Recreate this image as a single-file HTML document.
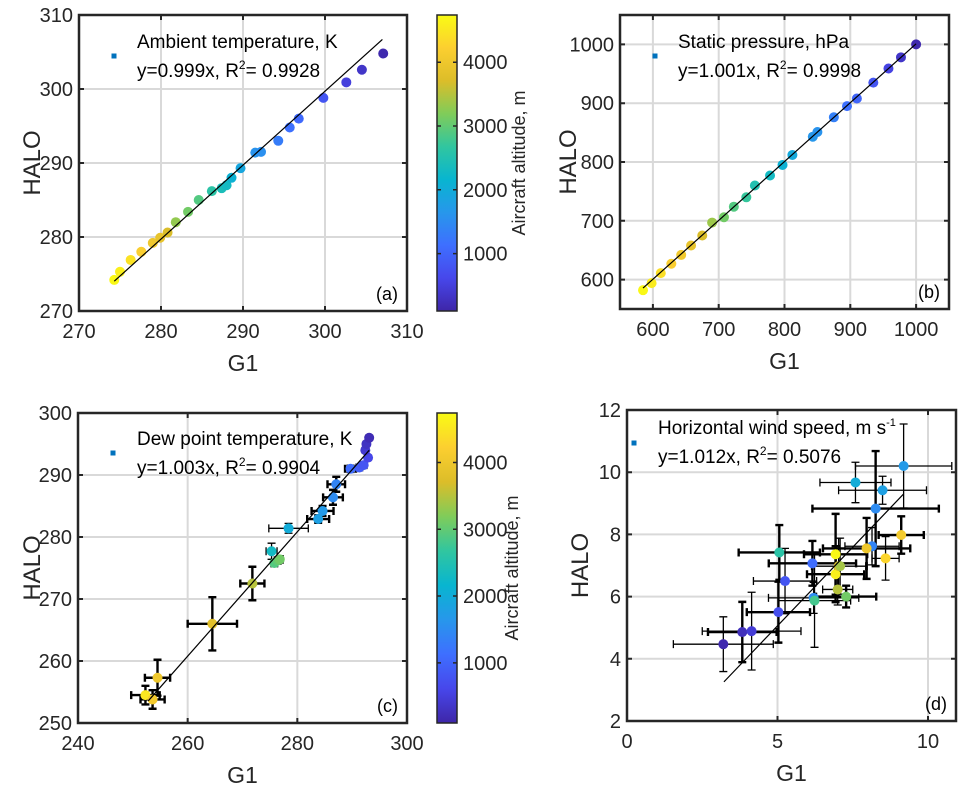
<!DOCTYPE html>
<html><head><meta charset="utf-8"><style>
body{margin:0;background:#fff}
svg{display:block;font-family:"Liberation Sans",Arial,sans-serif}
</style></head><body>
<svg id="fig" width="965" height="792" viewBox="0 0 965 792">
<defs>
<linearGradient id="parula" x1="0" y1="1" x2="0" y2="0">
<stop offset="0" stop-color="#3E26A8"/><stop offset="0.111" stop-color="#4747EB"/><stop offset="0.222" stop-color="#3E6FFF"/><stop offset="0.333" stop-color="#2797EB"/><stop offset="0.444" stop-color="#08B5D0"/><stop offset="0.556" stop-color="#31C69F"/><stop offset="0.667" stop-color="#80CC59"/><stop offset="0.778" stop-color="#DCBD29"/><stop offset="0.889" stop-color="#FCCF30"/><stop offset="1" stop-color="#F9FB14"/>
</linearGradient>
</defs>
</svg>
<script>
// ---- data: panel a (ambient temperature) ----
const aX=[274.3,275.0,276.3,277.6,279.0,279.9,280.8,281.8,283.3,284.6,286.2,287.4,288.0,288.6,289.7,291.5,292.2,294.3,295.7,296.8,299.8,302.6,304.5,307.1];
const aY=[274.2,275.3,276.9,278.0,279.2,279.9,280.6,282.0,283.4,285.0,286.2,286.6,287.0,288.0,289.3,291.4,291.5,293.0,294.8,296.0,298.8,300.9,302.6,304.8];
const aAlt=[4700,4600,4450,4200,4000,3900,3700,3300,3100,2900,2600,2400,2300,2100,1900,1600,1550,1300,1150,1050,800,500,350,150];
const aFit=[274.3,307.0];
// ---- data: panel b (static pressure) ----
const bX=[585,598,612,628,643,658,675,690,708,723,742,755,778,797,812,843,850,875,895,910,935,958,977,1000];
const bY=[582,594,611,627,642,658,675,697,706,724,740,760,777,795,812,843,851,876,895,908,935,959,978,1000];
const bAlt=[4700,4550,4400,4200,4050,3900,3700,3350,3100,2900,2700,2500,2300,2100,1950,1650,1600,1350,1150,1000,800,550,350,150];
const bFit=[585,1000];
// ---- data: panel c (dew point) ----
const cX=[252.3,253.6,254.5,264.5,271.8,275.3,275.8,276.4,276.8,278.4,283.8,284.6,286.5,287.1,289.7,291.3,292.1,292.9,292.4,292.6,293.1];
const cY=[254.5,253.8,257.3,266.0,272.5,277.7,275.8,276.2,276.4,281.4,282.9,284.2,286.4,288.5,291.0,291.2,291.6,292.8,294.0,295.0,296.0];
const cXerr=[2.6,2.2,2.3,4.5,2.2,1.0,0.6,0.6,0.6,3.6,2.0,2.0,1.8,1.6,1.0,0.6,0.6,0.4,0.3,0.3,0.3];
const cYerr=[1.5,1.5,2.9,4.3,2.7,1.3,0.6,0.6,0.6,0.8,0.6,0.8,1.2,1.2,0.5,0.4,0.4,0.4,0.4,0.4,0.4];
const cThick=[1,1,1,1,1,0,0,0,0,0,1,1,1,1,1,0,0,0,0,0,0];
const cAlt=[4500,4100,4000,3800,3500,2300,2900,3000,3100,2000,1800,1700,1500,1400,1100,900,800,600,400,300,200];
const cFit=[252.8,293.1];
// ---- data: panel d (wind speed) ----
const dX=[3.2,3.83,4.14,5.03,5.25,5.06,6.16,6.2,6.23,6.93,6.93,7.03,7.08,7.0,7.28,7.59,8.49,8.26,9.19,8.14,7.96,9.11,8.59];
const dY=[4.47,4.86,4.89,5.5,6.5,7.42,7.07,5.96,5.87,7.36,6.72,6.98,6.98,6.23,6.0,9.67,9.42,8.83,10.2,7.62,7.55,7.98,7.23];
const dXerr=[1.66,1.14,1.64,1.05,1.05,1.35,1.45,1.5,1.2,1.05,0.95,0.9,0.9,0.5,1.0,1.18,1.46,2.1,1.6,0.9,1.45,0.75,0.45];
const dYerr=[0.88,0.97,1.25,0.98,1.05,0.88,0.72,0.5,1.5,1.3,0.9,0.9,0.9,0.5,0.35,0.65,0.45,1.85,1.35,0.6,0.98,0.6,0.7];
const dThick=[0,1,0,1,0,1,1,0,0,1,1,0,0,0,1,0,0,1,0,0,1,1,0];
const dAlt=[150,250,450,700,800,2600,1100,1500,2800,4700,4600,3800,3400,3500,3100,2000,1800,1500,1700,1400,4000,4100,4300];
const dFit=[3.22,9.19];
const altMin=100, altMax=4740;
const cbTicks=[1000,2000,3000,4000];

const NS='http://www.w3.org/2000/svg';
const svg=document.getElementById('fig');
function mk(tag,attrs,parent){const e=document.createElementNS(NS,tag);for(const k in attrs)e.setAttribute(k,attrs[k]);(parent||svg).appendChild(e);return e;}
const pc=[[62,38,168],[71,71,235],[62,111,255],[39,151,235],[8,181,208],[49,198,159],[128,204,89],[220,189,41],[252,207,48],[249,251,20]];
function parula(t){t=Math.max(0,Math.min(1,t))*9;const i=Math.min(8,Math.floor(t)),f=t-i;const c=pc[i].map((v,j)=>Math.round(v+(pc[i+1][j]-v)*f));return `rgb(${c})`;}
function col(alt){return parula((alt-altMin)/(altMax-altMin));}

function panel(o){
  const g=mk('g',{});
  
  
  const sx=v=>o.L+(v-o.xd[0])/(o.xd[1]-o.xd[0])*(o.R-o.L);
  const sy=v=>o.B-(v-o.yd[0])/(o.yd[1]-o.yd[0])*(o.B-o.T);
  mk('rect',{x:o.L,y:o.T,width:o.R-o.L,height:o.B-o.T,fill:'#fff'},g);
  o.xt.forEach(v=>{const x=sx(v);if(x>o.L+1&&x<o.R-1){const l=mk('line',{x1:x,x2:x,y1:o.T,y2:o.B,stroke:'#d9d9d9','stroke-width':2},g);}});
  o.yt.forEach(v=>{const y=sy(v);if(y>o.T+1&&y<o.B-1){const l=mk('line',{x1:o.L,x2:o.R,y1:y,y2:y,stroke:'#d9d9d9','stroke-width':2},g);}});
  if(o.xe){o.x.forEach((v,i)=>{const sw=o.th&&o.th[i]?2.4:1.3;const x=sx(v),y=sy(o.y[i]);
    const x1=Math.max(o.L,sx(v-o.xe[i])),x2=Math.min(o.R,sx(v+o.xe[i]));const y1=sy(o.y[i]-o.ye[i]),y2=sy(o.y[i]+o.ye[i]);
    const e=mk('path',{d:`M${x1},${y}H${x2}M${x1},${y-4}V${y+4}M${x2},${y-4}V${y+4}M${x},${y1}V${y2}M${x-4},${y1}H${x+4}M${x-4},${y2}H${x+4}`,stroke:'#000','stroke-width':sw,fill:'none'},g);
    });}
  o.x.forEach((v,i)=>{const c=mk('circle',{cx:sx(v),cy:sy(o.y[i]),r:5,fill:col(o.alt[i])},g);});
  const fl=mk('line',{x1:sx(o.fit[0]),y1:sy(o.fit[0]*o.slope),x2:sx(o.fit[1]),y2:sy(o.fit[1]*o.slope),stroke:'#000','stroke-width':1.2},g);
  
  o.xt.forEach(v=>{const x=sx(v);mk('path',{d:`M${x},${o.B}v-5M${x},${o.T}v5`,stroke:'#262626','stroke-width':2},g);
    const t=mk('text',{x:x,y:o.B+27,'font-size':20,fill:'#262626','text-anchor':'middle'},g);t.textContent=v;});
  o.yt.forEach(v=>{const y=sy(v);mk('path',{d:`M${o.L},${y}h5M${o.R},${y}h-5`,stroke:'#262626','stroke-width':2},g);
    const t=mk('text',{x:o.L-6,y:y+7,'font-size':20,fill:'#262626','text-anchor':'end'},g);t.textContent=v;});
  const fr=mk('rect',{x:o.L,y:o.T,width:o.R-o.L,height:o.B-o.T,fill:'none',stroke:'#262626','stroke-width':2.5},g);
  
  const xl=mk('text',{x:(o.L+o.R)/2,y:o.B+60,'font-size':23,fill:'#262626','text-anchor':'middle'},g);xl.textContent='G1';
  
  const yl=mk('text',{x:0,y:0,'font-size':24,fill:'#262626','text-anchor':'middle',transform:`translate(${o.hx},${(o.T+o.B)/2}) rotate(-90)`},g);yl.textContent='HALO';
  
  const sq=mk('rect',{x:o.lg[0]-2.5,y:o.lg[1]-2.5,width:5,height:5,fill:'#0072bd'},g);
  
  const t1=mk('text',{x:o.lg[2],y:o.lg[3],'font-size':19,fill:'#000'},g);t1.innerHTML=o.t1;
  
  const t2=mk('text',{x:o.lg[2],y:o.lg[3]+29,'font-size':19,fill:'#000'},g);t2.innerHTML=o.t2;
  
  const pl=mk('text',{x:o.R-9,y:o.B-11,'font-size':18,fill:'#000','text-anchor':'end'},g);pl.textContent=o.lab;
  
}
function colorbar(x,T,B,lx,name){
  const g=mk('g',{});
  
  
  mk('rect',{x:x,y:T,width:20,height:B-T,fill:'url(#parula)',stroke:'#262626','stroke-width':1.5},g);
  cbTicks.forEach(v=>{const y=B-(v-altMin)/(altMax-altMin)*(B-T);mk('path',{d:`M${x},${y}h4M${x+20},${y}h-4`,stroke:'#262626','stroke-width':1.5},g);
    const t=mk('text',{x:x+26,y:y+7,'font-size':20,fill:'#262626'},g);t.textContent=v;});
  const t=mk('text',{x:0,y:0,'font-size':18,fill:'#262626','text-anchor':'middle',transform:`translate(${lx},${(T+B)/2}) rotate(-90)`},g);t.textContent='Aircraft altitude, m';
  
}
const sup2='<tspan dy="-8" font-size="12">2</tspan><tspan dy="8">';
panel({name:'panel-a-ambient-temperature',L:79,R:407,T:15,B:311,xd:[270,310],yd:[270,310],xt:[270,280,290,300,310],yt:[270,280,290,300,310],x:aX,y:aY,alt:aAlt,fit:aFit,slope:0.999,hx:40,lg:[114,56,137,48],t1:'Ambient temperature, K',t2:'y=0.999x, R'+sup2+'= 0.9928</tspan>',lab:'(a)'});
panel({name:'panel-b-static-pressure',L:620,R:949,T:15,B:309,xd:[550,1050],yd:[550,1050],xt:[600,700,800,900,1000],yt:[600,700,800,900,1000],x:bX,y:bY,alt:bAlt,fit:bFit,slope:1.001,hx:576,lg:[655,56,678,48],t1:'Static pressure, hPa',t2:'y=1.001x, R'+sup2+'= 0.9998</tspan>',lab:'(b)'});
panel({name:'panel-c-dew-point',L:78,R:407,T:413,B:723,xd:[240,300],yd:[250,300],xt:[240,260,280,300],yt:[250,260,270,280,290,300],x:cX,y:cY,xe:cXerr,ye:cYerr,th:cThick,alt:cAlt,fit:cFit,slope:1.003,hx:40,lg:[113,453,137,445],t1:'Dew point temperature, K',t2:'y=1.003x, R'+sup2+'= 0.9904</tspan>',lab:'(c)'});
panel({name:'panel-d-wind-speed',L:627,R:956,T:410,B:721,xd:[0,10.93],yd:[2,12],xt:[0,5,10],yt:[2,4,6,8,10,12],x:dX,y:dY,xe:dXerr,ye:dYerr,th:dThick,alt:dAlt,fit:dFit,slope:1.012,hx:588,lg:[634,443,658,434],t1:'Horizontal wind speed, m s<tspan dy="-8" font-size="11">-1</tspan>',t2:'y=1.012x, R'+sup2+'= 0.5076</tspan>',lab:'(d)'});
colorbar(437,15,311,525,'colorbar-a');
colorbar(437,413,723,518,'colorbar-c');
</script>
</body></html>
